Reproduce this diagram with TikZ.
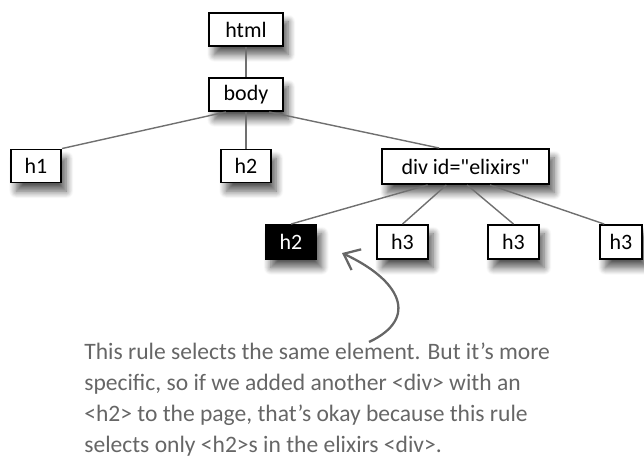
\documentclass[tikz,border=0pt]{standalone}
\usepackage{fontspec}
\setmainfont{Carlito}
\newfontfamily\tagfont{Carlito}
\usepackage{tikz}
\usetikzlibrary{arrows.meta, shadows.blur}
\definecolor{edgeGray}{HTML}{707070}
\definecolor{noteGray}{HTML}{666666}

\begin{document}
\begin{tikzpicture}[x=0.02cm, y=-0.02cm,
    elem/.style={rectangle, draw=black, line width=1.1pt, fill=white, minimum height=0.66cm,
      minimum width=1.02cm, font=\tagfont\fontsize{12.5}{14}\selectfont, inner sep=2pt,
      blur shadow={shadow xshift=3pt, shadow yshift=-5pt, shadow blur steps=10,
        shadow blur radius=4pt, shadow opacity=65}},
    picked/.style={elem, fill=black, text=white},
    tie/.style={edgeGray, line width=0.8pt},
    note/.style={font=\fontsize{13.4}{17.6}\selectfont, text=noteGray, align=left, inner sep=0pt}
  ]
  \useasboundingbox (0,0) rectangle (644,458);

  % === tree ===
  \node[elem, minimum width=1.48cm] (html) at (246,29.5) {html};
  \node[elem, minimum width=1.48cm] (body) at (246,94.5) {body};
  \node[elem, minimum width=1cm] (h1) at (36,166) {h1};
  \node[elem, minimum width=1cm] (h2) at (246,166) {h2};
  \node[elem, minimum width=3.34cm, minimum height=0.7cm] (div) at (465.5,166.5) {div id="elixirs"};
  \node[picked, minimum height=0.68cm] (h2b) at (291,242) {h2};
  \node[elem, minimum height=0.68cm] (h3a) at (402.5,242) {h3};
  \node[elem, minimum height=0.68cm] (h3b) at (513.5,242) {h3};
  \node[elem, minimum width=0.84cm, minimum height=0.68cm] (h3c) at (621,242) {h3};

  \draw[tie] (html) -- (body);
  \draw[tie] (body.221) -- (h1.north east);
  \draw[tie] (body) -- (h2);
  \draw[tie] (body.323) -- (div.145);
  \draw[tie] (div.206) -- (h2b.north);
  \draw[tie] (div.224) -- (h3a.north);
  \draw[tie] (div.275) -- (h3b.north);
  \draw[tie] (div.323) -- (h3c.133);

  % === note ===
  \node[note, anchor=north west] (rule) at (84,343)
    {This rule selects the same element. But it's more\\
     specific, so if we added another <div> with an\\
     <h2> to the page, that's okay because this rule\\
     selects only <h2>s in the elixirs <div>.};
  \coordinate (tail) at (369,342);
  \coordinate (tip) at (342,253);
  \draw[noteGray, line width=1.3pt, -{Straight Barb[length=8pt, width=13pt]}]
    (tail) .. controls (420,318) and (400,280) .. (tip);
\end{tikzpicture}
\end{document}
